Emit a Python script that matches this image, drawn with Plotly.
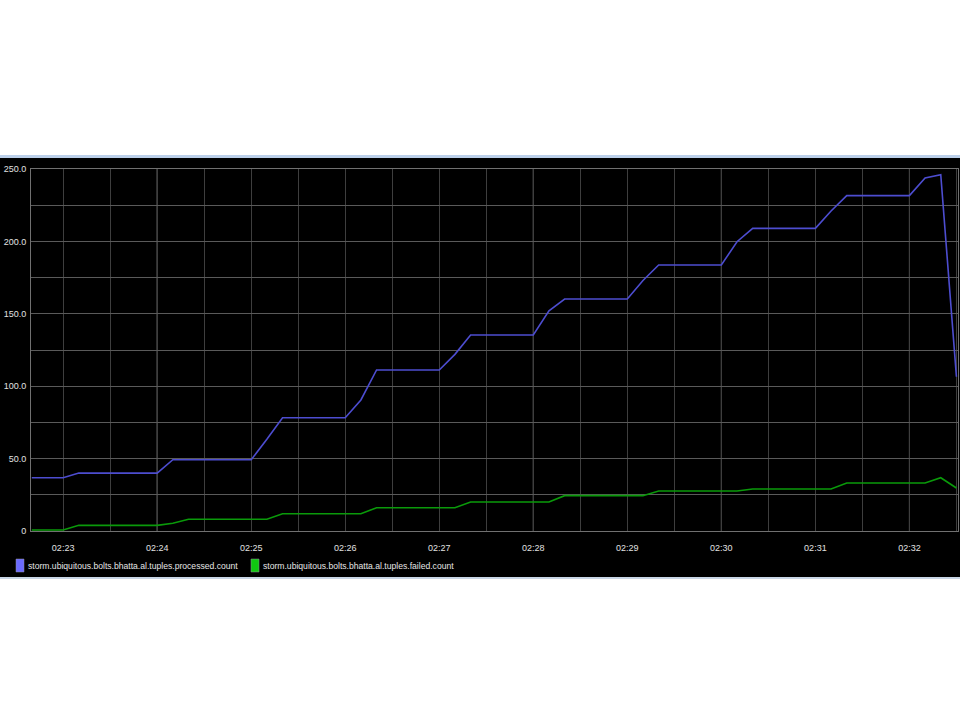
import plotly.graph_objects as go

DAY = "2015-06-01 "

series_names = [
    "storm.ubiquitous.bolts.bhatta.al.tuples.processed.count",
    "storm.ubiquitous.bolts.bhatta.al.tuples.failed.count",
]

processed_times = ["02:22:40", "02:23:00", "02:23:10", "02:24:00", "02:24:10", "02:25:00",
                   "02:25:10", "02:25:20", "02:26:00", "02:26:10", "02:26:20", "02:27:00",
                   "02:27:10", "02:27:20", "02:28:00", "02:28:10", "02:28:20", "02:29:00",
                   "02:29:10", "02:29:20", "02:30:00", "02:30:10", "02:30:20", "02:31:00",
                   "02:31:10", "02:31:20", "02:32:00", "02:32:10", "02:32:20", "02:32:30"]
processed_values = [36.8, 36.8, 40.0, 40.0, 49.2, 49.2,
                    63.3, 78.2, 78.2, 90.5, 111.2, 111.2,
                    122.0, 135.4, 135.4, 152.0, 160.2, 160.2,
                    173.0, 183.7, 183.7, 199.8, 209.0, 209.0,
                    221.0, 231.6, 231.6, 243.8, 246.0, 106.5]

failed_times = ["02:22:40", "02:23:00", "02:23:10", "02:24:00", "02:24:10", "02:24:20",
                "02:25:10", "02:25:20", "02:26:10", "02:26:20", "02:27:10", "02:27:20",
                "02:28:10", "02:28:20", "02:29:10", "02:29:20", "02:30:10", "02:30:20",
                "02:31:10", "02:31:20", "02:32:10", "02:32:20", "02:32:30"]
failed_values = [0.7, 0.7, 3.9, 3.9, 5.3, 8.1,
                 8.1, 11.9, 11.9, 16.1, 16.1, 20.0,
                 20.0, 24.4, 24.4, 27.6, 27.6, 29.0,
                 29.0, 33.1, 33.1, 36.8, 29.7]

y_tick_values = [0, 25, 50, 75, 100, 125, 150, 175, 200, 225, 250]
y_tick_labels = ["0", "", "50.0", "", "100.0", "", "150.0", "", "200.0", "", "250.0"]

x_tick_times = ["02:23:00", "02:23:30", "02:24:00", "02:24:30", "02:25:00", "02:25:30",
                "02:26:00", "02:26:30", "02:27:00", "02:27:30", "02:28:00", "02:28:30",
                "02:29:00", "02:29:30", "02:30:00", "02:30:30", "02:31:00", "02:31:30",
                "02:32:00", "02:32:30"]
x_tick_labels = ["02:23", "", "02:24", "", "02:25", "", "02:26", "", "02:27", "",
                 "02:28", "", "02:29", "", "02:30", "", "02:31", "", "02:32", ""]
bright_grid_times = ["02:24:00", "02:28:00", "02:30:00", "02:32:00"]

line_colors = ["#4d4dd0", "#0a9a0a"]
swatch_colors = ["#6a6aff", "#10c810"]

W, H = 960, 720
L, R, T, B = 31, 2, 169, 189
PW = W - L - R
PH = H - T - B


def px2x(px):
    return (px - L) / PW


def py2y(py):
    return (H - B - py) / PH


fig = go.Figure()
fig.add_trace(go.Scatter(x=[DAY + t for t in processed_times], y=processed_values,
                         mode="lines", name=series_names[0],
                         line=dict(color=line_colors[0], width=1.6), showlegend=False))
fig.add_trace(go.Scatter(x=[DAY + t for t in failed_times], y=failed_values,
                         mode="lines", name=series_names[1],
                         line=dict(color=line_colors[1], width=1.6), showlegend=False))

shapes = [
    dict(type="rect", xref="paper", yref="paper", x0=px2x(-2), x1=px2x(962),
         y0=py2y(577), y1=py2y(158), fillcolor="black", line_width=0, layer="below"),
    dict(type="rect", xref="paper", yref="paper", x0=px2x(-2), x1=px2x(962),
         y0=py2y(158), y1=py2y(155), fillcolor="#bcd0ea", line_width=0, layer="below"),
    dict(type="rect", xref="paper", yref="paper", x0=px2x(-2), x1=px2x(962),
         y0=py2y(579), y1=py2y(577), fillcolor="#c9d6e6", line_width=0, layer="below"),
]
for t in bright_grid_times:
    shapes.append(dict(type="line", xref="x", yref="paper", x0=DAY + t, x1=DAY + t,
                       y0=0, y1=1, line=dict(color="#8a8a8a", width=1), layer="between"))

annotations = []
legend_x = [16, 251]
for i, name in enumerate(series_names):
    x0 = legend_x[i]
    shapes.append(dict(type="rect", xref="paper", yref="paper", x0=px2x(x0), x1=px2x(x0 + 8),
                       y0=py2y(572), y1=py2y(559), fillcolor=swatch_colors[i],
                       line=dict(color="#9090a0", width=0.5), layer="above"))
    annotations.append(dict(text=name, xref="paper", yref="paper", x=px2x(x0 + 10),
                            y=py2y(565.5), xanchor="left", yanchor="middle", showarrow=False,
                            font=dict(family="Liberation Sans, Arial", size=8.6, color="#e6e6e6")))

fig.update_layout(
    width=W, height=H, autosize=False,
    margin=dict(l=L, r=R, t=T, b=B, pad=0),
    paper_bgcolor="white", plot_bgcolor="black",
    font=dict(family="Liberation Sans, Arial", size=9, color="#e0e0e0"),
    shapes=shapes, annotations=annotations,
    xaxis=dict(type="date", range=[DAY + "02:22:39.5", DAY + "02:32:31"],
               tickvals=[DAY + t for t in x_tick_times], ticktext=x_tick_labels,
               showgrid=True, gridcolor="#3e3e3e", gridwidth=1,
               showline=True, linecolor="#707070", linewidth=1, mirror=True,
               ticks="", ticklabelstandoff=8, zeroline=False,
               tickfont=dict(size=9, color="#e0e0e0")),
    yaxis=dict(range=[0, 250], tickvals=y_tick_values, ticktext=y_tick_labels,
               showgrid=True, gridcolor="#5a5a5a", gridwidth=1,
               showline=True, linecolor="#707070", linewidth=1, mirror=True,
               ticks="", ticklabelstandoff=2, zeroline=False,
               tickfont=dict(size=9, color="#e0e0e0")),
)

fig.write_html("out.html", config={"displayModeBar": False},
               post_script="document.body.style.margin='0';")
